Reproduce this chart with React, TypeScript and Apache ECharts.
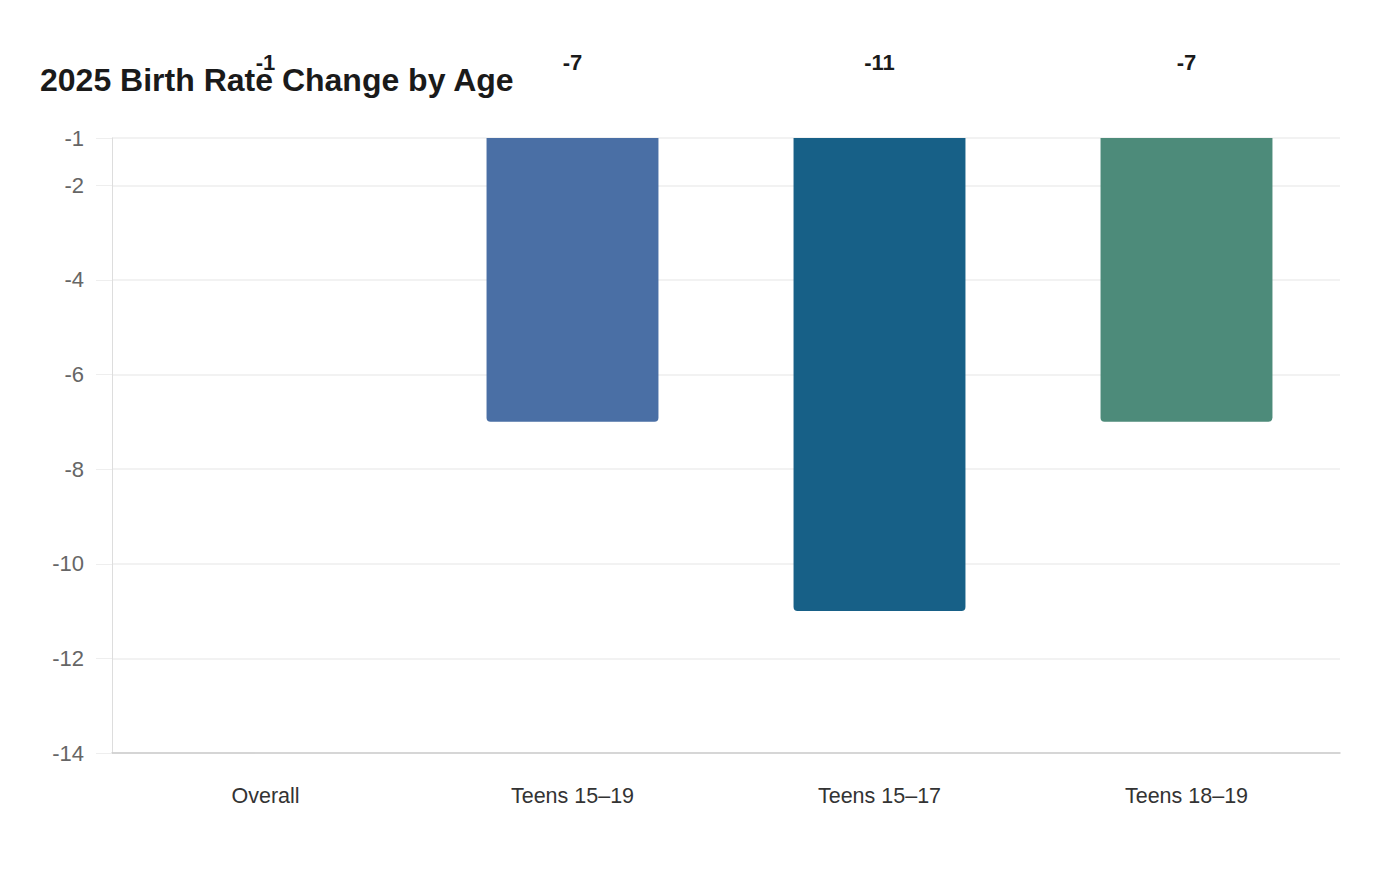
import {useEffect, useRef} from 'react';
import * as echarts from 'echarts';

const categories = ['Overall', 'Teens 15–19', 'Teens 15–17', 'Teens 18–19'];
const changes = [-1, -7, -11, -7];
const barColors = ['#3f6f96', '#4a6fa5', '#176087', '#4d8b7a'];

export default function App() {
    const ref = useRef<HTMLDivElement | null>(null);

    useEffect(() => {
        if (!ref.current) return;
        const chart = echarts.init(ref.current, null, {renderer: 'svg'});
        chart.setOption({
            animation: false,
            backgroundColor: '#ffffff',
            title: {
                text: '2025 Birth Rate Change by Age',
                left: 27,
                top: 51,
                textStyle: {fontSize: 32, fontWeight: 'bold', color: '#1a1a1a', fontFamily: 'Liberation Sans, Arial, sans-serif'}
            },
            grid: {left: 104, right: 52, top: 130, bottom: 119},
            xAxis: {
                type: 'category',
                data: categories,
                axisLine: {lineStyle: {color: '#cccccc', width: 1.5}},
                axisTick: {show: false},
                axisLabel: {color: '#333333', fontSize: 21.5, margin: 32, fontFamily: 'Liberation Sans, Arial, sans-serif'}
            },
            yAxis: {
                type: 'value',
                min: -14,
                max: -1,
                interval: 2,
                axisLine: {show: true, lineStyle: {color: '#dddddd', width: 1}},
                axisTick: {show: true, length: 16, lineStyle: {color: '#eeeeee'}},
                splitLine: {lineStyle: {color: '#eeeeee', width: 1.5}},
                axisLabel: {color: '#666666', fontSize: 22, margin: 28, fontFamily: 'Liberation Sans, Arial, sans-serif'}
            },
            series: [{
                type: 'bar',
                barWidth: '56%',
                data: changes.map((v, i) => ({value: v, itemStyle: {color: barColors[i]}})),
                itemStyle: {borderRadius: [0, 0, 4, 4]},
                label: {
                    show: true,
                    position: 'top',
                    distance: 65,
                    color: '#1a1a1a',
                    fontSize: 22,
                    fontWeight: 'bold',
                    fontFamily: 'Liberation Sans, Arial, sans-serif'
                }
            }]
        });
        return () => chart.dispose();
    }, []);

    return <div ref={ref} style={{width: 1384, height: 864}}/>;
}
